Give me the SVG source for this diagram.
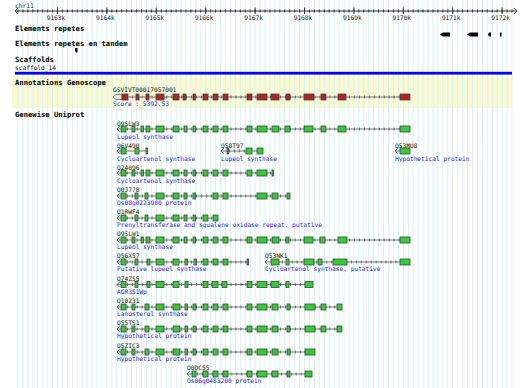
<svg xmlns="http://www.w3.org/2000/svg" width="520" height="388" viewBox="0 0 520 388">
<defs>
<pattern id="grid" patternUnits="userSpaceOnUse" x="17.5" y="0" width="4.94" height="10">
<rect x="0" y="0" width="1" height="10" fill="#d6f2f6"/>
</pattern>
<style>
text{font-family:"DejaVu Sans Mono","Liberation Mono",monospace;}
.lbl{font-size:7.2px;font-weight:bold;fill:#000;}
.nm{font-size:6.2px;fill:#111;}
.ds{font-size:6.2px;fill:#1a1aff;}
.rl{font-size:6.2px;fill:#222;}
.intr{stroke:#777;stroke-width:1;fill:none;}
.tk{stroke:#555;stroke-width:3;stroke-dasharray:0.8 4.14;fill:none;}
.ex{fill:#33cc33;stroke:#444;stroke-width:0.8;}
.exr{fill:#b22222;stroke:#444;stroke-width:0.8;}
.st{stroke:#444;stroke-width:0.9;fill:none;}
</style>
</defs>
<rect x="0" y="0" width="520" height="388" fill="#fff"/>
<rect id="genoscope-band" x="12" y="77.5" width="500" height="30.5" fill="#fafad2"/>
<rect x="15" y="0" width="500" height="388" fill="url(#grid)"/>

<g id="ruler">
<text class="rl" x="15" y="7.5">chr11</text>
<line x1="15" y1="11" x2="517" y2="11" stroke="#333" stroke-width="1"/>
<polyline points="18,8 15,11 18,14" class="st" stroke="#333"/>
<polyline points="514,8 517,11 514,14" class="st" stroke="#333"/>
<line x1="17.5" y1="11" x2="514" y2="11" stroke="#333" stroke-width="3" stroke-dasharray="1 3.94"/>
<g stroke="#333" stroke-width="1">
<line x1="57.5" y1="7.5" x2="57.5" y2="14"/>
<line x1="106.9" y1="7.5" x2="106.9" y2="14"/>
<line x1="156.3" y1="7.5" x2="156.3" y2="14"/>
<line x1="205.7" y1="7.5" x2="205.7" y2="14"/>
<line x1="255.1" y1="7.5" x2="255.1" y2="14"/>
<line x1="304.5" y1="7.5" x2="304.5" y2="14"/>
<line x1="353.9" y1="7.5" x2="353.9" y2="14"/>
<line x1="403.3" y1="7.5" x2="403.3" y2="14"/>
<line x1="452.7" y1="7.5" x2="452.7" y2="14"/>
<line x1="502.1" y1="7.5" x2="502.1" y2="14"/>
</g>
<g class="rl" text-anchor="middle">
<text x="56" y="19.5">9163k</text>
<text x="105.4" y="19.5">9164k</text>
<text x="154.8" y="19.5">9165k</text>
<text x="204.2" y="19.5">9166k</text>
<text x="253.6" y="19.5">9167k</text>
<text x="303" y="19.5">9168k</text>
<text x="352.4" y="19.5">9169k</text>
<text x="401.8" y="19.5">9170k</text>
<text x="451.2" y="19.5">9171k</text>
<text x="500.6" y="19.5">9172k</text>
</g>
</g>

<g id="track-repeats">
<text class="lbl" x="15" y="30.5">Elements repetes</text>
<polygon points="440,34.5 443,32.5 450,32.5 450,36.5 443,36.5" fill="#000"/>
<polygon points="467,34.5 470,32.5 478,32.5 478,36.5 470,36.5" fill="#000"/>
<polygon points="488,34.5 489,32.5 491,32.5 491,36.5 489,36.5" fill="#000"/>
<rect x="500" y="32.5" width="1.5" height="4" fill="#000"/>
</g>

<g id="track-tandem">
<text class="lbl" x="15" y="45.5">Elements repetes en tandem</text>
<polygon points="75,48 77.5,48 77.5,52.5 76,52.5 75,50.5" fill="#000"/>
</g>

<g id="track-scaffolds">
<text class="lbl" x="15" y="61.5">Scaffolds</text>
<text class="nm" x="15" y="70">scaffold_14</text>
<rect x="15" y="71.8" width="497" height="2.8" fill="#0000ff"/>
</g>

<g id="track-genoscope">
<text class="lbl" x="15" y="84.5">Annotations Genoscope</text>
<text class="nm" x="113" y="92.3">GSVIVT00017057001</text>
<line class="intr" x1="113" y1="97" x2="410" y2="97"/>
<line class="tk" x1="122" y1="97" x2="410" y2="97"/>
<polygon points="113,97 116,94.5 122,94.5 122,99.5 116,99.5" fill="#e6e6e6" stroke="#777" stroke-width="0.9"/>
<g class="exr">
<rect x="122" y="94" width="6" height="6"/><rect x="136" y="94" width="3" height="6"/><rect x="146" y="94" width="3" height="6"/><rect x="156" y="94" width="8" height="6"/><rect x="173" y="94" width="6" height="6"/><rect x="183" y="94" width="3" height="6"/><rect x="193" y="94" width="2.5" height="6"/><rect x="203" y="94" width="5" height="6"/><rect x="213" y="94" width="5" height="6"/><rect x="223" y="94" width="5" height="6"/><rect x="247" y="94" width="5" height="6"/><rect x="257" y="94" width="10" height="6"/><rect x="271" y="94" width="8" height="6"/><rect x="286" y="94" width="4" height="6"/><rect x="304" y="94" width="10" height="6"/><rect x="321" y="94" width="5" height="6"/><rect x="338" y="94" width="8" height="6"/><rect x="400" y="94" width="10" height="6"/>
</g>
<text class="ds" x="113" y="105.5">Score : 5392.53</text>
</g>

<g id="track-genewise">
<text class="lbl" x="15" y="116.5">Genewise Uniprot</text>
</g>

<g id="Q9SLW3">
<text class="nm" x="117" y="125.5">Q9SLW3</text>
<line class="intr" x1="117" y1="129" x2="410" y2="129"/>
<line class="tk" x1="122" y1="129" x2="410" y2="129"/>
<polyline class="st" points="119.5,126.5 117,129 119.5,131.5"/>
<g class="ex">
<rect x="121" y="126" width="5" height="6"/><rect x="132" y="126" width="3" height="6"/><rect x="141" y="126" width="2.5" height="6"/><rect x="146" y="126" width="4" height="6"/><rect x="156" y="126" width="8" height="6"/><rect x="173" y="126" width="6" height="6"/><rect x="184" y="126" width="3" height="6"/><rect x="193" y="126" width="2.5" height="6"/><rect x="203" y="126" width="5" height="6"/><rect x="213" y="126" width="5" height="6"/><rect x="223" y="126" width="5" height="6"/><rect x="247" y="126" width="5" height="6"/><rect x="257" y="126" width="10" height="6"/><rect x="272" y="126" width="7" height="6"/><rect x="285" y="126" width="5" height="6"/><rect x="304" y="126" width="9" height="6"/><rect x="321" y="126" width="5" height="6"/><rect x="338" y="126" width="8" height="6"/><rect x="400" y="126" width="10" height="6"/>
</g>
<text class="ds" x="117" y="138.5">Lupeol synthase</text>
</g>

<g id="Q6V490">
<text class="nm" x="117" y="147.5">Q6V490</text>
<line class="intr" x1="117" y1="151" x2="147.5" y2="151"/>
<polyline class="st" points="119.5,148.5 117,151 119.5,153.5"/>
<g class="ex">
<rect x="121" y="148" width="5" height="6"/><rect x="135" y="148" width="4" height="6"/><rect x="146" y="148" width="1.5" height="6"/>
</g>
<text class="ds" x="117" y="160.5">Cycloartenol synthase</text>
</g>

<g id="Q58T97">
<text class="nm" x="221" y="147.5">Q58T97</text>
<line class="intr" x1="221" y1="151" x2="263" y2="151"/>
<line class="tk" x1="229" y1="151" x2="246" y2="151"/>
<polyline class="st" points="223.5,148.5 221,151 223.5,153.5"/>
<g class="ex">
<rect x="227" y="148" width="1.5" height="6"/><rect x="246" y="148" width="6" height="6"/><rect x="257" y="148" width="6" height="6"/>
</g>
<text class="ds" x="221" y="160.5">Lupeol synthase</text>
</g>

<g id="Q53MU8">
<text class="nm" x="395" y="147.5">Q53MU8</text>
<line class="intr" x1="395" y1="151" x2="400" y2="151"/>
<polyline class="st" points="397.5,148.5 395,151 397.5,153.5"/>
<rect class="ex" x="400" y="148" width="10" height="6"/>
<text class="ds" x="395" y="160.5">Hypothetical protein</text>
</g>

<g id="O24096">
<text class="nm" x="117" y="169.5">O24096</text>
<line class="intr" x1="117" y1="173" x2="273.5" y2="173"/>
<line class="tk" x1="122" y1="173" x2="272" y2="173"/>
<polyline class="st" points="119.5,170.5 117,173 119.5,175.5"/>
<g class="ex">
<rect x="121" y="170" width="5" height="6"/><rect x="132" y="170" width="3" height="6"/><rect x="141" y="170" width="2.5" height="6"/><rect x="146" y="170" width="4" height="6"/><rect x="156" y="170" width="8" height="6"/><rect x="173" y="170" width="6" height="6"/><rect x="184" y="170" width="3" height="6"/><rect x="193" y="170" width="2.5" height="6"/><rect x="203" y="170" width="5" height="6"/><rect x="213" y="170" width="5" height="6"/><rect x="223" y="170" width="5" height="6"/><rect x="247" y="170" width="5" height="6"/><rect x="257" y="170" width="10" height="6"/><rect x="272" y="170" width="1.5" height="6"/>
</g>
<text class="ds" x="117" y="182.5">Cycloartenol synthase</text>
</g>

<g id="Q0J778">
<text class="nm" x="117" y="192">Q0J778</text>
<line class="intr" x1="117" y1="196" x2="290" y2="196"/>
<line class="tk" x1="122" y1="196" x2="290" y2="196"/>
<polyline class="st" points="119.5,193.5 117,196 119.5,198.5"/>
<g class="ex">
<rect x="121" y="193" width="5" height="6"/><rect x="135" y="193" width="3" height="6"/><rect x="145" y="193" width="3" height="6"/><rect x="156" y="193" width="8" height="6"/><rect x="173" y="193" width="6" height="6"/><rect x="184" y="193" width="3" height="6"/><rect x="193" y="193" width="2.5" height="6"/><rect x="213" y="193" width="5" height="6"/><rect x="223" y="193" width="5" height="6"/><rect x="257" y="193" width="10" height="6"/><rect x="272" y="193" width="6" height="6"/><rect x="287" y="193" width="3" height="6"/>
</g>
<text class="ds" x="117" y="205">Os08g0223900 protein</text>
</g>

<g id="Q1RWF4">
<text class="nm" x="117" y="214.3">Q1RWF4</text>
<line class="intr" x1="117" y1="218" x2="218" y2="218"/>
<line class="tk" x1="122" y1="218" x2="218" y2="218"/>
<polyline class="st" points="119.5,215.5 117,218 119.5,220.5"/>
<g class="ex">
<rect x="121" y="215" width="5" height="6"/><rect x="135" y="215" width="3" height="6"/><rect x="145" y="215" width="3" height="6"/><rect x="156" y="215" width="8" height="6"/><rect x="173" y="215" width="6" height="6"/><rect x="184" y="215" width="3" height="6"/><rect x="193" y="215" width="2.5" height="6"/><rect x="203" y="215" width="5" height="6"/><rect x="213" y="215" width="5" height="6"/>
</g>
<text class="ds" x="117" y="227.3">Prenyltransferase and squalene oxidase repeat, putative</text>
</g>

<g id="Q9SLW1">
<text class="nm" x="117" y="236.3">Q9SLW1</text>
<line class="intr" x1="117" y1="240" x2="410" y2="240"/>
<line class="tk" x1="122" y1="240" x2="410" y2="240"/>
<polyline class="st" points="119.5,237.5 117,240 119.5,242.5"/>
<g class="ex">
<rect x="121" y="237" width="5" height="6"/><rect x="132" y="237" width="3" height="6"/><rect x="141" y="237" width="2.5" height="6"/><rect x="146" y="237" width="4" height="6"/><rect x="156" y="237" width="8" height="6"/><rect x="173" y="237" width="6" height="6"/><rect x="184" y="237" width="3" height="6"/><rect x="193" y="237" width="2.5" height="6"/><rect x="203" y="237" width="5" height="6"/><rect x="213" y="237" width="5" height="6"/><rect x="223" y="237" width="5" height="6"/><rect x="247" y="237" width="5" height="6"/><rect x="257" y="237" width="10" height="6"/><rect x="272" y="237" width="7" height="6"/><rect x="286" y="237" width="3" height="6"/><rect x="304" y="237" width="9" height="6"/><rect x="320" y="237" width="5" height="6"/><rect x="338" y="237" width="9" height="6"/><rect x="400" y="237" width="10" height="6"/>
</g>
<text class="ds" x="117" y="249.3">Lupeol synthase</text>
</g>

<g id="Q56X57">
<text class="nm" x="117" y="258.3">Q56X57</text>
<line class="intr" x1="117" y1="262" x2="248.5" y2="262"/>
<line class="tk" x1="122" y1="262" x2="247" y2="262"/>
<polyline class="st" points="119.5,259.5 117,262 119.5,264.5"/>
<g class="ex">
<rect x="121" y="259" width="5" height="6"/><rect x="135" y="259" width="3" height="6"/><rect x="147" y="259" width="3" height="6"/><rect x="156" y="259" width="8" height="6"/><rect x="173" y="259" width="6" height="6"/><rect x="185" y="259" width="2.5" height="6"/><rect x="194" y="259" width="2.5" height="6"/><rect x="203" y="259" width="5" height="6"/><rect x="213" y="259" width="5" height="6"/><rect x="223" y="259" width="5" height="6"/><rect x="247" y="259" width="1.5" height="6"/>
</g>
<text class="ds" x="117" y="271.3">Putative lupeol synthase</text>
</g>

<g id="Q53NK1">
<text class="nm" x="265" y="258.3">Q53NK1</text>
<line class="intr" x1="265" y1="262" x2="410" y2="262"/>
<line class="tk" x1="272" y1="262" x2="410" y2="262"/>
<polyline class="st" points="267.5,259.5 265,262 267.5,264.5"/>
<g class="ex">
<rect x="271" y="259" width="8" height="6"/><rect x="286" y="259" width="3" height="6"/><rect x="304" y="259" width="10" height="6"/><rect x="318" y="259" width="4" height="6"/><rect x="333" y="259" width="14" height="6"/><rect x="400" y="259" width="10" height="6"/>
</g>
<text class="ds" x="265" y="271.3">Cycloartenol synthase, putative</text>
</g>

<g id="Q74Z55">
<text class="nm" x="117" y="281">Q74Z55</text>
<line class="intr" x1="117" y1="284.5" x2="313" y2="284.5"/>
<line class="tk" x1="122" y1="284.5" x2="313" y2="284.5"/>
<polyline class="st" points="119.5,282 117,284.5 119.5,287"/>
<g class="ex">
<rect x="121" y="281.5" width="5" height="6"/><rect x="135" y="281.5" width="3" height="6"/><rect x="147" y="281.5" width="3" height="6"/><rect x="156" y="281.5" width="8" height="6"/><rect x="173" y="281.5" width="6" height="6"/><rect x="185" y="281.5" width="3" height="6"/><rect x="203" y="281.5" width="5" height="6"/><rect x="212" y="281.5" width="6" height="6"/><rect x="222" y="281.5" width="5" height="6"/><rect x="247" y="281.5" width="5" height="6"/><rect x="257" y="281.5" width="10" height="6"/><rect x="271" y="281.5" width="8" height="6"/><rect x="286" y="281.5" width="3" height="6"/><rect x="305" y="281.5" width="8" height="6"/>
</g>
<text class="ds" x="117" y="293.5">AGR351Wp</text>
</g>

<g id="Q10231">
<text class="nm" x="117" y="303.3">Q10231</text>
<line class="intr" x1="117" y1="307" x2="342" y2="307"/>
<line class="tk" x1="122" y1="307" x2="342" y2="307"/>
<polyline class="st" points="119.5,304.5 117,307 119.5,309.5"/>
<g class="ex">
<rect x="121" y="304" width="5" height="6"/><rect x="132" y="304" width="3" height="6"/><rect x="145" y="304" width="4" height="6"/><rect x="156" y="304" width="8" height="6"/><rect x="173" y="304" width="7" height="6"/><rect x="185" y="304" width="2.5" height="6"/><rect x="193" y="304" width="3" height="6"/><rect x="203" y="304" width="5" height="6"/><rect x="213" y="304" width="5" height="6"/><rect x="223" y="304" width="5" height="6"/><rect x="247" y="304" width="5" height="6"/><rect x="257" y="304" width="10" height="6"/><rect x="272" y="304" width="6" height="6"/><rect x="287" y="304" width="3" height="6"/><rect x="305" y="304" width="10" height="6"/><rect x="321" y="304" width="5" height="6"/><rect x="337" y="304" width="5" height="6"/>
</g>
<text class="ds" x="117" y="316.3">Lanosterol synthase</text>
</g>

<g id="Q55TS1">
<text class="nm" x="117" y="325.3">Q55TS1</text>
<line class="intr" x1="117" y1="329" x2="342" y2="329"/>
<line class="tk" x1="122" y1="329" x2="342" y2="329"/>
<polyline class="st" points="119.5,326.5 117,329 119.5,331.5"/>
<g class="ex">
<rect x="121" y="326" width="5" height="6"/><rect x="132" y="326" width="3" height="6"/><rect x="145" y="326" width="4" height="6"/><rect x="156" y="326" width="8" height="6"/><rect x="173" y="326" width="7" height="6"/><rect x="185" y="326" width="2.5" height="6"/><rect x="193" y="326" width="3" height="6"/><rect x="203" y="326" width="5" height="6"/><rect x="213" y="326" width="5" height="6"/><rect x="223" y="326" width="5" height="6"/><rect x="247" y="326" width="5" height="6"/><rect x="257" y="326" width="10" height="6"/><rect x="272" y="326" width="6" height="6"/><rect x="287" y="326" width="3" height="6"/><rect x="305" y="326" width="10" height="6"/><rect x="321" y="326" width="5" height="6"/><rect x="337" y="326" width="5" height="6"/>
</g>
<text class="ds" x="117" y="338.3">Hypothetical protein</text>
</g>

<g id="Q5ZIC3">
<text class="nm" x="117" y="348.3">Q5ZIC3</text>
<line class="intr" x1="117" y1="352" x2="315" y2="352"/>
<line class="tk" x1="122" y1="352" x2="315" y2="352"/>
<polyline class="st" points="119.5,349.5 117,352 119.5,354.5"/>
<g class="ex">
<rect x="121" y="349" width="5" height="6"/><rect x="132" y="349" width="3" height="6"/><rect x="145" y="349" width="4" height="6"/><rect x="156" y="349" width="8" height="6"/><rect x="173" y="349" width="7" height="6"/><rect x="185" y="349" width="2.5" height="6"/><rect x="193" y="349" width="3" height="6"/><rect x="203" y="349" width="5" height="6"/><rect x="213" y="349" width="5" height="6"/><rect x="223" y="349" width="5" height="6"/><rect x="247" y="349" width="5" height="6"/><rect x="257" y="349" width="10" height="6"/><rect x="272" y="349" width="6" height="6"/><rect x="287" y="349" width="3" height="6"/><rect x="305" y="349" width="10" height="6"/>
</g>
<text class="ds" x="117" y="361.3">Hypothetical protein</text>
</g>

<g id="Q0DC55">
<text class="nm" x="187" y="370.3">Q0DC55</text>
<line class="intr" x1="187" y1="374" x2="312" y2="374"/>
<line class="tk" x1="192" y1="374" x2="312" y2="374"/>
<polyline class="st" points="189.5,371.5 187,374 189.5,376.5"/>
<g class="ex">
<rect x="192" y="371" width="4" height="6"/><rect x="203" y="371" width="5" height="6"/><rect x="213" y="371" width="5" height="6"/><rect x="223" y="371" width="5" height="6"/><rect x="247" y="371" width="5" height="6"/><rect x="257" y="371" width="10" height="6"/><rect x="272" y="371" width="6" height="6"/><rect x="287" y="371" width="3" height="6"/><rect x="305" y="371" width="7" height="6"/>
</g>
<text class="ds" x="187" y="383.3">Os06g0483200 protein</text>
</g>

<g id="connectors"></g>
</svg>
